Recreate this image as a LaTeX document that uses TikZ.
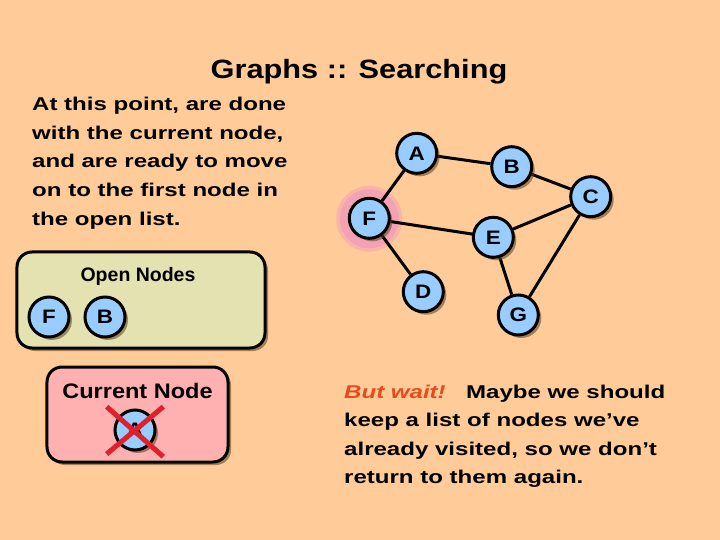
\documentclass[tikz,border=0pt]{standalone}
\usepackage{fontspec}
\setmainfont{Liberation Sans}
\newfontfamily\widefont[FakeStretch=1.3]{Liberation Sans}
\newfontfamily\titlefont[FakeStretch=1.16]{Liberation Sans}
\newfontfamily\curfont[FakeStretch=1.12]{Liberation Sans}
\newfontfamily\gnodefont[FakeStretch=1.15]{Liberation Sans}
\usetikzlibrary{shadows}
\pgfdeclarelayer{back}
\pgfdeclarelayer{edges}
\pgfsetlayers{back,edges,main}
\definecolor{bgc}{HTML}{FFCC99}
\definecolor{nodeblue}{HTML}{99CCFF}
\definecolor{openfill}{HTML}{E5E2B2}
\definecolor{curfill}{HTML}{FFB0B0}
\definecolor{halo}{HTML}{F2A2B2}
\definecolor{shadowc}{HTML}{5A4020}
\definecolor{waitred}{HTML}{E84A1A}
\definecolor{xred}{HTML}{E0202A}
\begin{document}
\begin{tikzpicture}[x=1bp,y=-1bp,
  shad/.style={drop shadow={shadow xshift=3bp,shadow yshift=-3bp,fill=shadowc,opacity=0.55}},
  gnode/.style={circle,draw=black,line width=3bp,fill=nodeblue,minimum size=40bp,inner sep=0pt,
    font=\gnodefont\bfseries\fontsize{19.5bp}{19.5bp}\selectfont,shad},
  edge/.style={line width=3bp,black},
  txt/.style={anchor=base west,inner sep=0pt,font=\widefont\bfseries\fontsize{18.5bp}{20bp}\selectfont},
  listbox/.style={draw=black,line width=3bp,rounded corners=15bp,inner sep=0pt,shad}]
\begin{pgfonlayer}{back}
\fill[bgc] (0,0) rectangle (720,540);
\fill[halo!55!bgc] (369.3,218.8) circle (33);
\fill[halo] (369.3,218.8) circle (29.5);
\end{pgfonlayer}
\useasboundingbox (0,0) rectangle (720,540);

% title
\node[anchor=base,inner sep=0pt,font=\titlefont\bfseries\fontsize{26.5bp}{30bp}\selectfont] (title) at (359,78.3) {Graphs :: Searching};

% left text
\node[txt] (l1) at (32,110.7) {At this point, are done};
\node[txt] (l2) at (32,139.3) {with the current node,};
\node[txt] (l3) at (32,168) {and are ready to move};
\node[txt] (l4) at (32,196.6) {on to the first node in};
\node[txt] (l5) at (32,225.2) {the open list.};

% graph
\node[gnode] (A) at (416.7,153.3) {A};
\node[gnode] (B) at (511.7,166.7) {B};
\node[gnode] (C) at (590.7,196.7) {C};
\node[gnode] (F) at (369.3,218.3) {F};
\node[gnode] (E) at (493.3,237.3) {E};
\node[gnode] (D) at (423.3,291.7) {D};
\node[gnode] (G) at (518.3,315) {G};
\begin{pgfonlayer}{edges}
\draw[edge] (A) -- (B);
\draw[edge] (B) -- (C);
\draw[edge] (A) -- (F);
\draw[edge] (F) -- (E);
\draw[edge] (E) -- (C);
\draw[edge] (C) -- (G);
\draw[edge] (E) -- (G);
\draw[edge] (F) -- (D);
\end{pgfonlayer}

% open nodes box
\node[listbox,fill=openfill,minimum width=248bp,minimum height=96bp] (open) at (141,300) {};
\node[anchor=base,inner sep=0pt,font=\bfseries\fontsize{19.5bp}{20bp}\selectfont] (opent) at (138,281.7) {Open Nodes};
\node[gnode] (oF) at (49,317) {F};
\node[gnode] (oB) at (105,317) {B};

% current node box
\node[listbox,fill=curfill,minimum width=181bp,minimum height=95bp] (cur) at (137.5,414.5) {};
\node[anchor=base,inner sep=0pt,font=\curfont\bfseries\fontsize{21bp}{22bp}\selectfont] (curt) at (137.5,398.3) {Current Node};
\node[gnode] (cA) at (135,430) {A};
\coordinate (x1) at (106.7,406.7);
\coordinate (x2) at (163.3,456.7);
\coordinate (x3) at (163.3,406.7);
\coordinate (x4) at (106.7,454);
\draw[xred,line width=5bp] (x1) -- (x2);
\draw[xred,line width=5bp] (x3) -- (x4);

% right text
\node[txt,text=waitred,font=\widefont\bfseries\itshape\fontsize{18.5bp}{20bp}\selectfont] (wait) at (344,398.3) {But wait!};
\node[txt] (r1) at (466,398.3) {Maybe we should};
\node[txt] (r2) at (344,426.7) {keep a list of nodes we’ve};
\node[txt] (r3) at (344,455) {already visited, so we don’t};
\node[txt] (r4) at (344,483.3) {return to them again.};
\end{tikzpicture}
\end{document}
